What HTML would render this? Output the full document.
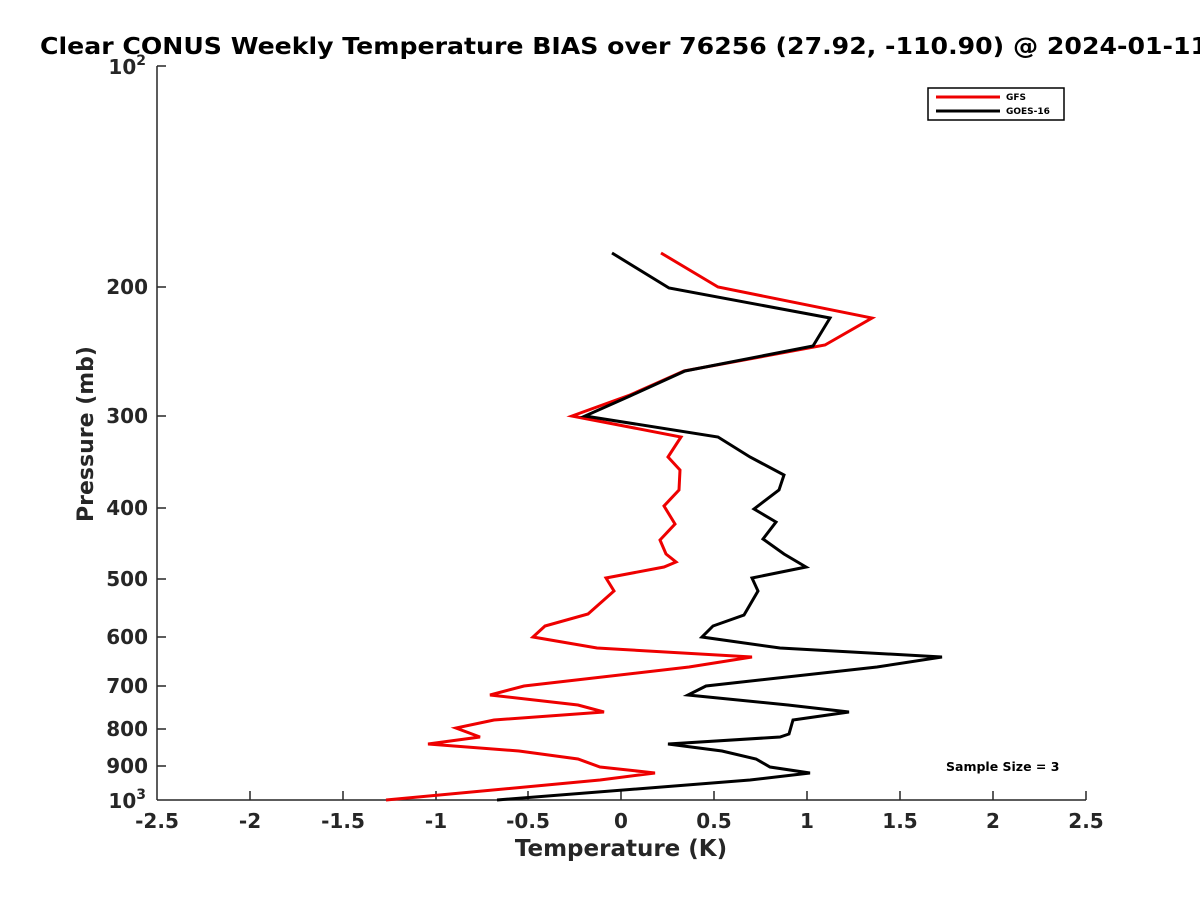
<!DOCTYPE html>
<html><head><meta charset="utf-8"><style>body{margin:0;background:#fff}</style></head><body>
<svg width="1200" height="900" xmlns="http://www.w3.org/2000/svg" font-family="DejaVu Sans, sans-serif" font-weight="bold">
<rect width="1200" height="900" fill="#fff"/>
<text x="40" y="54" font-size="23" textLength="1168" lengthAdjust="spacingAndGlyphs" fill="#000">Clear CONUS Weekly Temperature BIAS over 76256 (27.92, -110.90) @ 2024-01-11</text>
<g stroke="#262626" stroke-width="1.5" fill="none">
<line x1="157" y1="66" x2="157" y2="800"/>
<line x1="157" y1="800" x2="1086" y2="800"/>
<line x1="157" y1="66" x2="166" y2="66"/>
<line x1="157" y1="287" x2="166" y2="287"/>
<line x1="157" y1="416" x2="166" y2="416"/>
<line x1="157" y1="508" x2="166" y2="508"/>
<line x1="157" y1="579" x2="166" y2="579"/>
<line x1="157" y1="637" x2="166" y2="637"/>
<line x1="157" y1="686" x2="166" y2="686"/>
<line x1="157" y1="729" x2="166" y2="729"/>
<line x1="157" y1="766" x2="166" y2="766"/>
<line x1="250" y1="791" x2="250" y2="800"/><line x1="343" y1="791" x2="343" y2="800"/><line x1="436" y1="791" x2="436" y2="800"/><line x1="528" y1="791" x2="528" y2="800"/><line x1="621" y1="791" x2="621" y2="800"/><line x1="714" y1="791" x2="714" y2="800"/><line x1="807" y1="791" x2="807" y2="800"/><line x1="900" y1="791" x2="900" y2="800"/><line x1="993" y1="791" x2="993" y2="800"/><line x1="1086" y1="791" x2="1086" y2="800"/>
</g>
<g font-size="20" fill="#262626" text-anchor="end">
<text x="146" y="74">10<tspan font-size="14" dy="-9">2</tspan></text>
<text x="148" y="294">200</text><text x="148" y="423">300</text><text x="148" y="515">400</text><text x="148" y="586">500</text><text x="148" y="644">600</text><text x="148" y="693">700</text><text x="148" y="736">800</text><text x="148" y="773">900</text>
<text x="146" y="808">10<tspan font-size="14" dy="-9">3</tspan></text>
</g>
<g font-size="20" fill="#262626" text-anchor="middle">
<text x="157" y="828">-2.5</text><text x="250" y="828">-2</text><text x="343" y="828">-1.5</text><text x="436" y="828">-1</text><text x="528" y="828">-0.5</text><text x="621" y="828">0</text><text x="714" y="828">0.5</text><text x="807" y="828">1</text><text x="900" y="828">1.5</text><text x="993" y="828">2</text><text x="1086" y="828">2.5</text>
</g>
<text x="621" y="856" font-size="23" fill="#262626" text-anchor="middle">Temperature (K)</text>
<text transform="translate(93,434) rotate(-90)" font-size="22" fill="#262626" text-anchor="middle">Pressure (mb)</text>
<polyline fill="none" stroke="#e00" stroke-width="3" points="661,253 718,287 872,318 825,345 684,371 630,395 572,416 681,437 668,457 680,470 679,490 664,506 675,524 660,540 666,554 676,562 664,567 606,578 614,591 588,614 545,626 533,637 597,648 752,657 689,667 524,686 490,695 578,705 604,712 494,720 456,728 480,737 428,744 519,751 578,759 600,767 655,773 600,780 386,800"/>
<polyline fill="none" stroke="#000" stroke-width="3" points="612,253 669,288 830,318 813,346 685,371 630,396 585,416 718,437 750,457 784,475 779,490 754,509 776,522 763,539 784,554 806,567 752,578 758,591 744,615 713,626 702,637 780,648 942,657 877,667 706,686 688,695 788,705 849,712 793,720 789,734 780,737 668,744 722,751 756,759 770,767 810,773 750,780 497,800"/>
<rect x="928" y="88" width="136" height="32" fill="#fff" stroke="#000" stroke-width="1.5"/>
<line x1="936" y1="97" x2="1000" y2="97" stroke="#e00" stroke-width="3"/>
<line x1="936" y1="111" x2="1000" y2="111" stroke="#000" stroke-width="3"/>
<text x="1006" y="100" font-size="9">GFS</text>
<text x="1006" y="114" font-size="9">GOES-16</text>
<text x="946" y="771" font-size="12.5" fill="#000">Sample Size = 3</text>
</svg>
</body></html>
